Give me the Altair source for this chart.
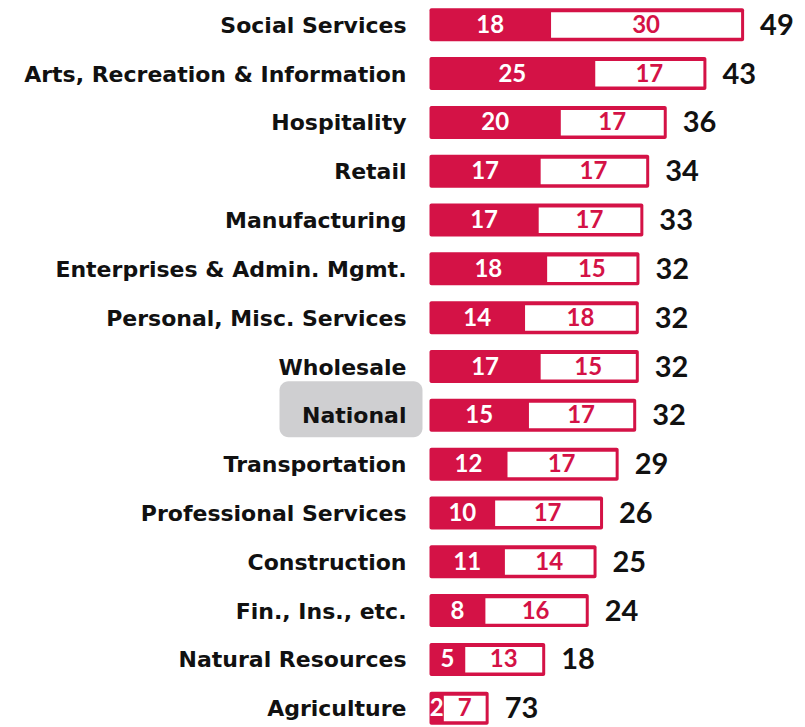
import altair as alt
import pandas as pd

categories = ["Social Services", "Arts, Recreation & Information", "Hospitality", "Retail",
              "Manufacturing", "Enterprises & Admin. Mgmt.", "Personal, Misc. Services",
              "Wholesale", "National", "Transportation", "Professional Services",
              "Construction", "Fin., Ins., etc.", "Natural Resources", "Agriculture"]
# bar segment lengths
first_seg = [18.7, 25.5, 20.2, 17.1, 16.8, 18.1, 14.7, 17.1, 15.3, 12.0, 10.1, 11.6, 8.6, 5.5, 2.2]
second_seg = [29.7, 17.1, 16.3, 16.7, 16.1, 14.2, 17.5, 15.1, 16.5, 17.1, 16.6, 14.1, 15.9, 12.3, 6.9]
# printed labels
first_lab = [18, 25, 20, 17, 17, 18, 14, 17, 15, 12, 10, 11, 8, 5, 2]
second_lab = [30, 17, 17, 17, 17, 15, 18, 15, 17, 17, 17, 14, 16, 13, 7]
total_lab = [49, 43, 36, 34, 33, 32, 32, 32, 32, 29, 26, 25, 24, 18, 73]

RED = "#D41246"
FONT = "Lato"
CAT_FONT = "DejaVu Sans"

df = pd.DataFrame({
    "cat": categories,
    "v1": first_seg,
    "v2": second_seg,
    "l1": [str(v) for v in first_lab],
    "l2": [str(v) for v in second_lab],
    "lt": [str(v) for v in total_lab],
})
df["zero"] = 0.0
df["total"] = df["v1"] + df["v2"]
df["m1"] = df["v1"] / 2
df["m2"] = (df["v1"] + df["total"]) / 2

W = 789
xscale = alt.Scale(domain=[-421.5 / 6.5, (W - 421.5) / 6.5], nice=False, zero=False)
yscale = alt.Scale(domain=categories, paddingInner=0.314, paddingOuter=0)

base = alt.Chart(df)
Y = alt.Y("cat:N", scale=yscale, axis=None, sort=categories)

highlight = base.transform_filter(alt.datum.cat == "National").mark_bar(
    color="#CFCFD1", height=56, yOffset=-6, cornerRadius=9
).encode(x=alt.value(271.5), x2=alt.value(414.5), y=Y)

outer = base.mark_bar(color=RED, height=33, cornerRadius=2).encode(
    x=alt.X("zero:Q", scale=xscale, axis=None), x2="total:Q", y=Y)

inner = base.mark_bar(color="white", height=25.5, yOffset=0.3, x2Offset=-3, cornerRadius=0).encode(
    x=alt.X("v1:Q", scale=xscale, axis=None), x2="total:Q", y=Y)

t1 = base.mark_text(color="white", font=FONT, fontWeight="bold", fontSize=24,
                    align="center", baseline="middle", dy=1).encode(
    x=alt.X("m1:Q", scale=xscale, axis=None), y=Y, text="l1:N")

t2 = base.mark_text(color=RED, font=FONT, fontWeight="bold", fontSize=24,
                    align="center", baseline="middle", dy=1, dx=-1.5).encode(
    x=alt.X("m2:Q", scale=xscale, axis=None), y=Y, text="l2:N")

tt = base.mark_text(color="#111111", font=FONT, fontWeight="bold", fontSize=29,
                    align="left", baseline="middle", dx=16, dy=1).encode(
    x=alt.X("total:Q", scale=xscale, axis=None), y=Y, text="lt:N")

tc = base.mark_text(color="#111111", font=CAT_FONT, fontWeight="bold", fontSize=22,
                    align="right", baseline="middle", dx=-23, dy=1).encode(
    x=alt.X("zero:Q", scale=xscale, axis=None), y=Y, text="cat:N")

chart = alt.layer(highlight, outer, inner, t1, t2, tt, tc).properties(
    width=W, height=717,
    autosize=alt.AutoSizeParams(type="none"),
    padding={"left": 0, "top": 0, "right": 0, "bottom": 0},
).configure_view(stroke=None)

chart.save("out.html", embed_options={"renderer": "svg", "actions": False})
